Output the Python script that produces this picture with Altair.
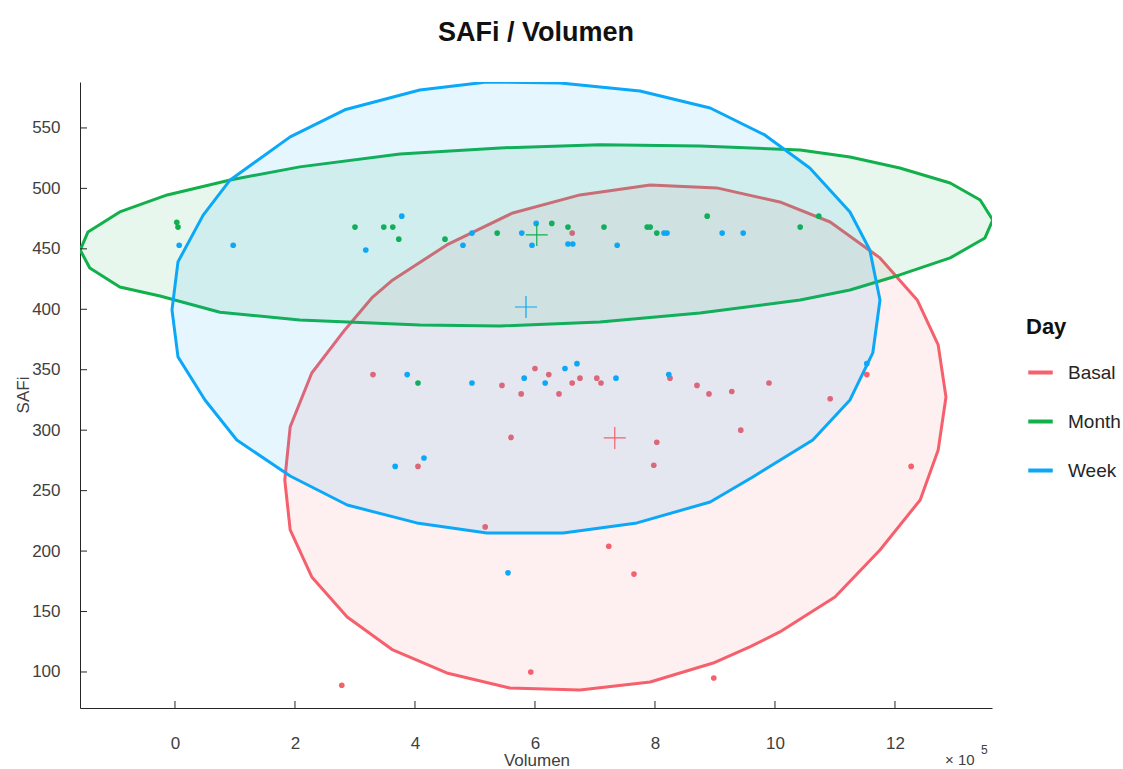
import altair as alt
import pandas as pd

groups = ["Basal", "Month", "Week"]
colors = ["#f5606c", "#12b04b", "#0ba8f7"]

# Scatter points (x in units of 1e5)
basal_x = [3.3, 5.45, 5.77, 6.0, 6.23, 6.4, 5.6, 4.05, 6.62, 6.75, 7.03, 7.1, 8.25, 8.7, 8.9, 9.28,
           9.9, 10.92, 11.53, 9.43, 8.03, 7.98, 12.27, 5.17, 7.23, 7.65, 5.93, 2.78, 8.98, 6.62]
basal_y = [346, 337, 330, 351, 346, 330, 294, 270, 339, 343, 343, 339, 343, 337, 330, 332,
           339, 326, 346, 300, 290, 271, 270, 220, 204, 181, 100, 89, 95, 463]
month_x = [0.03, 0.05, 3.0, 3.48, 3.63, 3.73, 4.5, 5.37, 6.28, 6.55, 7.15, 7.87, 7.92, 8.03,
           8.87, 10.42, 10.73, 4.05]
month_y = [472, 468, 468, 468, 468, 458, 458, 463, 471, 468, 468, 468, 468, 463,
           477, 468, 477, 339]
week_x = [0.07, 0.97, 3.18, 3.78, 4.8, 4.95, 5.78, 6.02, 5.95, 6.55, 6.63, 7.37, 8.15, 8.2,
          9.12, 9.47, 3.87, 4.95, 5.82, 6.17, 3.67, 4.15, 6.5, 6.7, 7.35, 8.23, 11.53, 5.55]
week_y = [453, 453, 449, 477, 453, 463, 463, 471, 453, 454, 454, 453, 463, 463,
          463, 463, 346, 339, 343, 339, 270, 277, 351, 355, 343, 346, 355, 182]

# Confidence ellipse outlines (vertices)
basal_ex = [7.92, 9.03, 10.08, 10.92, 11.75, 12.37, 12.72, 12.85, 12.72, 12.42, 11.75, 11.0, 10.08,
            9.58, 8.97, 7.92, 6.75, 5.58, 4.53, 3.63, 2.87, 2.28, 1.92, 1.83, 1.92, 2.28, 2.83,
            3.28, 3.63, 4.53, 5.63, 6.75, 7.92]
basal_ey = [502.8, 500.4, 488.8, 472.2, 442.5, 407.7, 370.5, 327.5, 283.6, 242.3, 200.9, 162, 133.1,
            120.7, 107.4, 91.7, 85.1, 86.8, 99.2, 118.2, 145.5, 178.6, 217.5, 258.8, 302.7, 347.3, 382.9,
            409.4, 424.3, 453.2, 479.7, 494.6, 502.8]
month_ex = [-1.58, -1.45, -0.92, -0.13, 0.92, 2.08, 3.75, 5.42, 7.08, 8.75, 10.42, 11.25, 12.08,
            12.92, 13.42, 13.63, 13.5, 12.92, 12.08, 11.25, 10.42, 8.75, 7.08, 5.42, 4.08, 2.08,
            0.75, -0.25, -0.92, -1.42, -1.58]
month_ey = [449, 464, 480.5, 494.6, 507, 517.8, 528.5, 533.5, 536, 535.1, 531.8, 526, 516.9,
            504.5, 490.4, 473.9, 459, 442.5, 428.4, 416, 407.7, 397, 389.5, 386.2, 387, 391.2,
            397.6, 411, 418.5, 434.2, 449]
week_ex = [5.2, 6.42, 7.75, 8.92, 9.83, 10.58, 11.25, 11.58, 11.75, 11.63, 11.25, 10.63, 9.63,
           8.92, 7.7, 6.47, 5.2, 4.03, 2.87, 1.92, 1.03, 0.5, 0.05, -0.05, 0.05, 0.47, 0.92,
           1.92, 2.83, 4.08, 5.2]
week_ey = [588, 587.2, 580.6, 566.5, 544.2, 516.9, 480.5, 449.1, 407.7, 363.9, 325, 291.9, 261.3,
           240.6, 223.3, 215, 215, 223.3, 238.1, 262.1, 291.9, 325, 360.6, 399.5, 439.2, 477.9, 507,
           542.6, 565, 581.4, 588]

# Group means
mean_x = [7.33, 6.03, 5.85]
mean_y = [293.6, 461.5, 401.9]

x_ticks = [0, 2, 4, 6, 8, 10, 12]
y_ticks = [100, 150, 200, 250, 300, 350, 400, 450, 500, 550]

X_DOM = [-1.583, 13.617]
Y_DOM = [70.2, 588]

FONT = "Liberation Sans"
pts = {"Basal": (basal_x, basal_y), "Month": (month_x, month_y), "Week": (week_x, week_y)}
ells = {"Basal": (basal_ex, basal_ey), "Month": (month_ex, month_ey), "Week": (week_ex, week_ey)}

color_scale = alt.Scale(domain=groups, range=colors)
xs = alt.Scale(domain=X_DOM, nice=False, zero=False)
ys = alt.Scale(domain=Y_DOM, nice=False, zero=False)

axis_common = dict(
    grid=False, ticks=False, domainColor="#262626", domainWidth=1, format="d", title=None,
    labelColor="#404040", labelFontSize=17, labelFont=FONT,
)

layers = []
for g, c in zip(groups, colors):
    ex, ey = ells[g]
    edf = pd.DataFrame({"x": ex, "y": ey, "i": list(range(len(ex))), "Day": g})
    line = alt.Chart(edf).mark_line(
        fill=c, fillOpacity=0.1, strokeWidth=3, clip=True, strokeJoin="round"
    ).encode(
        x=alt.X("x:Q", scale=xs, axis=alt.Axis(values=x_ticks, labelPadding=27, **axis_common)),
        y=alt.Y("y:Q", scale=ys, axis=alt.Axis(values=y_ticks, labelPadding=20, **axis_common)),
        color=alt.Color("Day:N", scale=color_scale, legend=alt.Legend(
            title="Day", symbolType="stroke", symbolStrokeWidth=4, symbolSize=600,
            titleFontSize=22, titleFontWeight="bold", titleColor="#111111",
            labelFontSize=19, labelColor="#262626", labelOffset=13, rowPadding=24,
            titlePadding=19, orient="none", legendX=946, legendY=235,
            titleFont=FONT, labelFont=FONT)),
        order=alt.Order("i:Q"),
    )
    px_, py_ = pts[g]
    pdf = pd.DataFrame({"x": px_, "y": py_, "Day": g})
    dots = alt.Chart(pdf).mark_circle(size=32, opacity=1).encode(
        x=alt.X("x:Q", scale=xs),
        y=alt.Y("y:Q", scale=ys),
        color=alt.Color("Day:N", scale=color_scale, legend=None),
    )
    layers += [line, dots]

mdf = pd.DataFrame({"x": mean_x, "y": mean_y, "Day": groups})
crosses = alt.Chart(mdf).mark_point(
    shape="M-1,0L1,0M0,-1L0,1", size=484, strokeWidth=1.2, filled=False, opacity=1
).encode(
    x=alt.X("x:Q", scale=xs),
    y=alt.Y("y:Q", scale=ys),
    color=alt.Color("Day:N", scale=color_scale, legend=None),
)

xt = alt.Chart(pd.DataFrame({"t": x_ticks})).mark_rule(color="#262626", strokeWidth=1).encode(
    x=alt.X("t:Q", scale=xs), y=alt.value(626), y2=alt.value(619)
)
yt = alt.Chart(pd.DataFrame({"t": y_ticks})).mark_rule(color="#262626", strokeWidth=1).encode(
    y=alt.Y("t:Q", scale=ys), x=alt.value(0), x2=alt.value(7)
)

def label(txt, x, y, size, angle=0, align="center"):
    return alt.Chart(pd.DataFrame({"s": [txt]})).mark_text(
        fontSize=size, color="#404040", align=align, baseline="middle", font=FONT, angle=angle
    ).encode(text="s:N", x=alt.value(x), y=alt.value(y))

x_title = label("Volumen", 457, 679, 17)
y_title = label("SAFi", -56, 313, 17, angle=270)
exp_base = label("× 10", 865, 678, 15, align="left")
exp_sup = label("5", 901, 668, 12, align="left")

chart = alt.layer(*layers, crosses, xt, yt, x_title, y_title, exp_base, exp_sup).properties(
    width=912, height=626,
    title=alt.TitleParams("SAFi / Volumen", fontSize=27, fontWeight="bold", color="#111111",
                          font=FONT, anchor="middle", offset=35),
    autosize=alt.AutoSizeParams(type="none"),
    padding={"left": 80, "top": 82, "right": 131, "bottom": 61},
).configure(background="white").configure_view(strokeWidth=0, stroke="transparent")

chart.save("out.html", embed_options={"renderer": "svg", "actions": False})
